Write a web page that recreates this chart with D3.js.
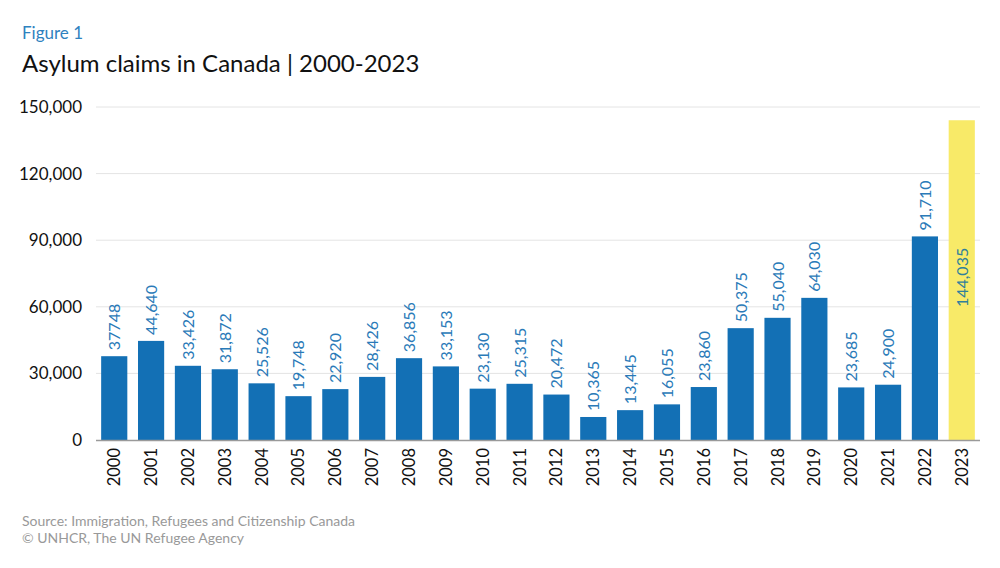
<!DOCTYPE html>
<html><head><meta charset="utf-8">
<script src="https://cdn.jsdelivr.net/npm/d3@7"></script>
<style>body{margin:0;background:#fff;} svg{display:block;font-family:Lato,"Open Sans",sans-serif;}</style>
</head><body><svg id="c" width="1000" height="568"></svg>
<script>
const years = ["2000","2001","2002","2003","2004","2005","2006","2007","2008","2009","2010","2011","2012","2013","2014","2015","2016","2017","2018","2019","2020","2021","2022","2023"];
const claims = [37748,44640,33426,31872,25526,19748,22920,28426,36856,33153,23130,25315,20472,10365,13445,16055,23860,50375,55040,64030,23685,24900,91710,144035];
const labels = ["37748","44,640","33,426","31,872","25,526","19,748","22,920","28,426","36,856","33,153","23,130","25,315","20,472","10,365","13,445","16,055","23,860","50,375","55,040","64,030","23,685","24,900","91,710","144,035"];
const yTicks = [0,30000,60000,90000,120000,150000];

const svg = d3.select("#c");
const x = d3.scaleBand().domain(years).range([96,980]).paddingInner(0.29).paddingOuter(0.14);
const y = d3.scaleLinear().domain([0,150000]).range([440,107]);

svg.append("text").attr("x",22).attr("y",39).attr("fill","#2f82bf").attr("font-size",17).text("Figure 1");
svg.append("text").attr("x",22).attr("y",72).attr("fill","#111").attr("font-size",24).text("Asylum claims in Canada | 2000-2023");

const g = svg.append("g");
g.selectAll("line.grid").data(yTicks.filter(d=>d>0)).join("line")
  .attr("x1",96).attr("x2",980).attr("y1",d=>y(d)).attr("y2",d=>y(d))
  .attr("stroke","#e4e4e4").attr("stroke-width",1);
const fmt = d3.format(",");
g.selectAll("text.yt").data(yTicks).join("text")
  .attr("x",82).attr("y",d=>y(d)+6).attr("text-anchor","end")
  .attr("font-size",17).attr("fill","#111").text(d=>fmt(d));

g.selectAll("rect").data(years).join("rect")
  .attr("x",d=>x(d)).attr("width",x.bandwidth())
  .attr("y",(d,i)=>y(claims[i])).attr("height",(d,i)=>y(0)-y(claims[i]))
  .attr("fill",(d,i)=>d==="2023"?"#f8ea68":"#1370b5");

g.append("line").attr("x1",96).attr("x2",980).attr("y1",440.5).attr("y2",440.5).attr("stroke","#9a9a9a").attr("stroke-width",1.5);

g.selectAll("text.val").data(years).join("text")
  .attr("transform",(d,i)=>{
    const cx = x(d)+x.bandwidth()/2+6;
    const yy = d==="2023" ? (y(claims[i])+y(0))/2 + 27 : y(claims[i]) - 6;
    return `translate(${cx},${yy}) rotate(-90)`;
  })
  .attr("font-size",16).attr("fill",(d)=>d==="2023"?"#2f7f9c":"#2a7ab8")
  .text((d,i)=>labels[i]);

g.selectAll("text.yr").data(years).join("text")
  .attr("transform",d=>`translate(${x(d)+x.bandwidth()/2+6},${448}) rotate(-90)`)
  .attr("text-anchor","end").attr("font-size",16.5).attr("fill","#111").text(d=>d);

svg.append("text").attr("x",22).attr("y",526).attr("fill","#999").attr("font-size",14).text("Source: Immigration, Refugees and Citizenship Canada");
svg.append("text").attr("x",22).attr("y",543).attr("fill","#999").attr("font-size",14).text("© UNHCR, The UN Refugee Agency");
</script></body></html>
